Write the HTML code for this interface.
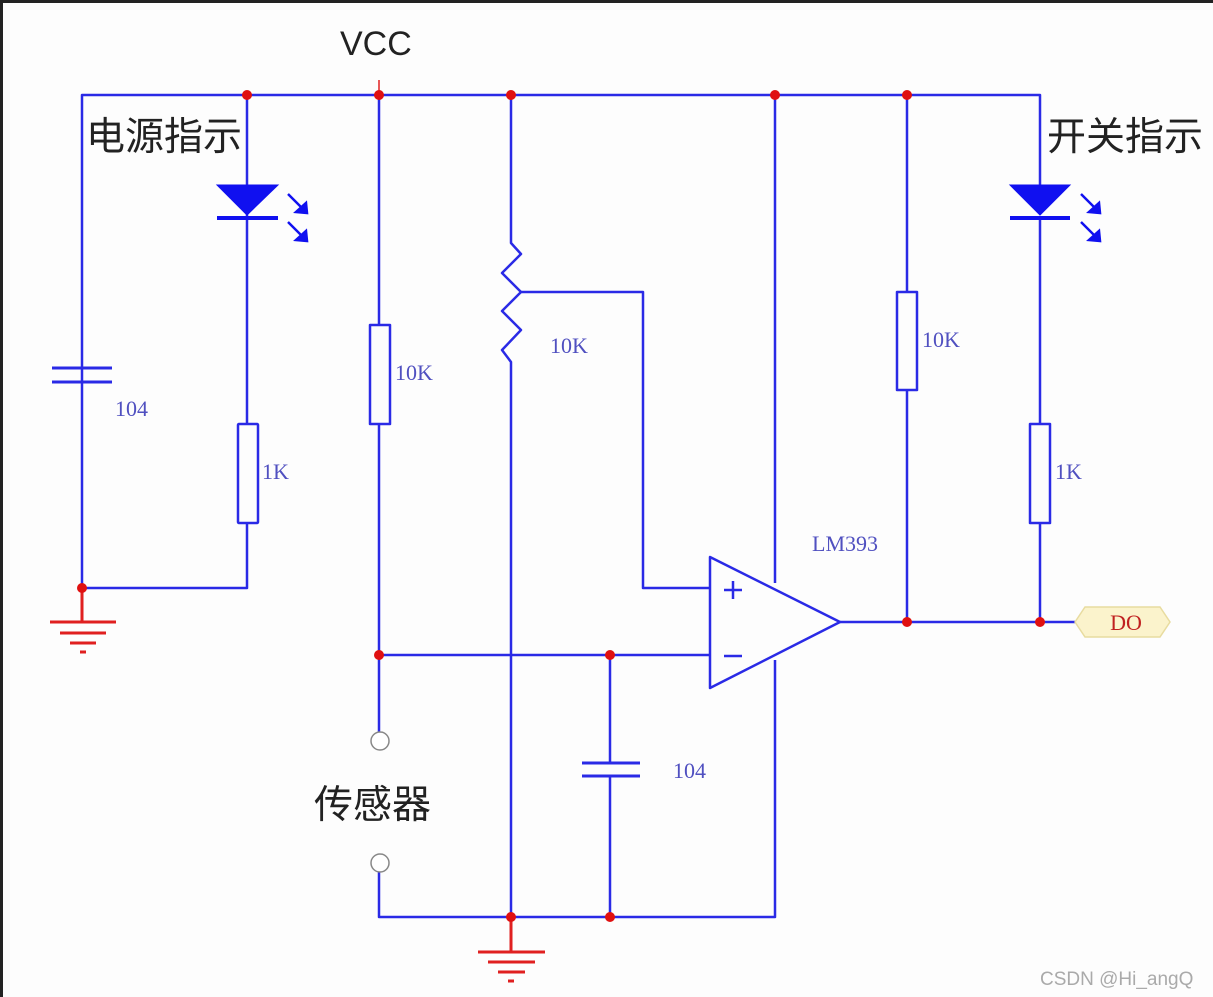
<!DOCTYPE html>
<html><head><meta charset="utf-8"><style>
html,body{margin:0;padding:0;background:#fff;}
svg{display:block;}
</style></head><body>
<svg width="1213" height="997" viewBox="0 0 1213 997" xmlns="http://www.w3.org/2000/svg">
<rect x="0" y="0" width="1213" height="997" fill="#fdfdfd"/>
<line x1="0" y1="1.5" x2="1213" y2="1.5" stroke="#222" stroke-width="3"/>
<line x1="1.5" y1="0" x2="1.5" y2="997" stroke="#222" stroke-width="3"/>

<g fill="none" stroke="#2a2ae6" stroke-width="2.5" stroke-linejoin="round">
<polyline points="82,588 82,95 1040,95 1040,185"/>
<line x1="247" y1="95" x2="247" y2="424"/>
<polyline points="247,523 247,588 82,588"/>
<rect x="238" y="424" width="20" height="99" rx="1"/>
<line x1="379" y1="95" x2="379" y2="325"/>
<rect x="370" y="325" width="20" height="99"/>
<polyline points="379,424 379,732"/>
<polyline points="379,872 379,917 775,917 775,660"/>
<line x1="775" y1="95" x2="775" y2="583"/>
<polyline points="511,95 511,243 521,254 502,273 521,292 502,311 521,330 502,350 511,362 511,917"/>
<polyline points="521,292 643,292 643,588 710,588"/>
<line x1="379" y1="655" x2="710" y2="655"/>
<line x1="610" y1="655" x2="610" y2="763"/>
<line x1="610" y1="776" x2="610" y2="917"/>
<line x1="582" y1="763" x2="640" y2="763" stroke-width="3"/>
<line x1="582" y1="776" x2="640" y2="776" stroke-width="3"/>
<line x1="52" y1="368" x2="112" y2="368" stroke-width="3"/>
<line x1="52" y1="382" x2="112" y2="382" stroke-width="3"/>
<polygon points="710,557 710,688 840,622"/>
<line x1="840" y1="622" x2="1075" y2="622"/>
<line x1="907" y1="95" x2="907" y2="292"/>
<rect x="897" y="292" width="20" height="98"/>
<line x1="907" y1="390" x2="907" y2="622"/>
<line x1="1040" y1="218" x2="1040" y2="424"/>
<rect x="1030" y="424" width="20" height="99"/>
<line x1="1040" y1="523" x2="1040" y2="622"/>
</g>
<g stroke="#2a2ae6" stroke-width="2.5">
<line x1="724" y1="590" x2="742" y2="590"/><line x1="733" y1="581" x2="733" y2="599"/>
<line x1="724" y1="656" x2="742" y2="656"/>
</g>
<g fill="#1010f0" stroke="#1010f0">
<polygon points="217,185 278,185 247,215"/>
<line x1="217" y1="218" x2="278" y2="218" stroke-width="4"/>
<polygon points="1010,185 1070,185 1040,215"/>
<line x1="1010" y1="218" x2="1070" y2="218" stroke-width="4"/>
</g>
<g stroke="#1010f0" stroke-width="2.5" fill="#1010f0">
<line x1="288" y1="194" x2="303" y2="209"/><polygon points="307,213 296,212 306,203"/>
<line x1="288" y1="222" x2="303" y2="237"/><polygon points="307,241 296,240 306,231"/>
<line x1="1081" y1="194" x2="1096" y2="209"/><polygon points="1100,213 1089,212 1099,203"/>
<line x1="1081" y1="222" x2="1096" y2="237"/><polygon points="1100,241 1089,240 1099,231"/>
</g>
<circle cx="380" cy="741" r="9" fill="#fff" stroke="#888" stroke-width="1.5"/>
<circle cx="380" cy="863" r="9" fill="#fff" stroke="#888" stroke-width="1.5"/>
<g stroke="#e02020" stroke-width="3">
<line x1="379" y1="80" x2="379" y2="95" stroke-width="1.5"/>
<line x1="82" y1="588" x2="82" y2="622"/>
<line x1="50" y1="622" x2="116" y2="622"/>
<line x1="60" y1="633" x2="106" y2="633"/>
<line x1="70" y1="643" x2="96" y2="643"/>
<line x1="80" y1="652" x2="86" y2="652"/>
<line x1="511" y1="917" x2="511" y2="952"/>
<line x1="478" y1="952" x2="545" y2="952"/>
<line x1="488" y1="962" x2="535" y2="962"/>
<line x1="498" y1="972" x2="525" y2="972"/>
<line x1="508" y1="981" x2="514" y2="981"/>
</g>
<g fill="#e01010">
<circle cx="247" cy="95" r="5"/><circle cx="379" cy="95" r="5"/><circle cx="511" cy="95" r="5"/>
<circle cx="775" cy="95" r="5"/><circle cx="907" cy="95" r="5"/>
<circle cx="82" cy="588" r="5"/><circle cx="379" cy="655" r="5"/><circle cx="610" cy="655" r="5"/>
<circle cx="907" cy="622" r="5"/><circle cx="1040" cy="622" r="5"/>
<circle cx="511" cy="917" r="5"/><circle cx="610" cy="917" r="5"/>
</g>
<polygon points="1075,622 1085,607 1160,607 1170,622 1160,637 1085,637" fill="#fbf3cc" stroke="#e8dca0" stroke-width="1.5"/>
<text x="1126" y="630" font-family="Liberation Serif, serif" font-size="22" fill="#c02020" text-anchor="middle">DO</text>
<g font-family="Liberation Serif, serif" font-size="22" fill="#5050c0">
<text x="115" y="416">104</text>
<text x="262" y="479">1K</text>
<text x="395" y="380">10K</text>
<text x="550" y="353">10K</text>
<text x="922" y="347">10K</text>
<text x="1055" y="479">1K</text>
<text x="673" y="778">104</text>
<text x="812" y="551">LM393</text>
</g>
<g font-family="Liberation Sans, 'Noto Sans CJK SC', sans-serif" fill="#222">
<text x="340" y="55" font-size="34">VCC</text>
<text x="86" y="150" font-size="39">电源指示</text>
<text x="1047" y="150" font-size="39">开关指示</text>
<text x="314" y="818" font-size="39">传感器</text>
<text x="1040" y="985" font-size="19" fill="#aaa">CSDN @Hi_angQ</text>
</g>
</svg>
</body></html>
